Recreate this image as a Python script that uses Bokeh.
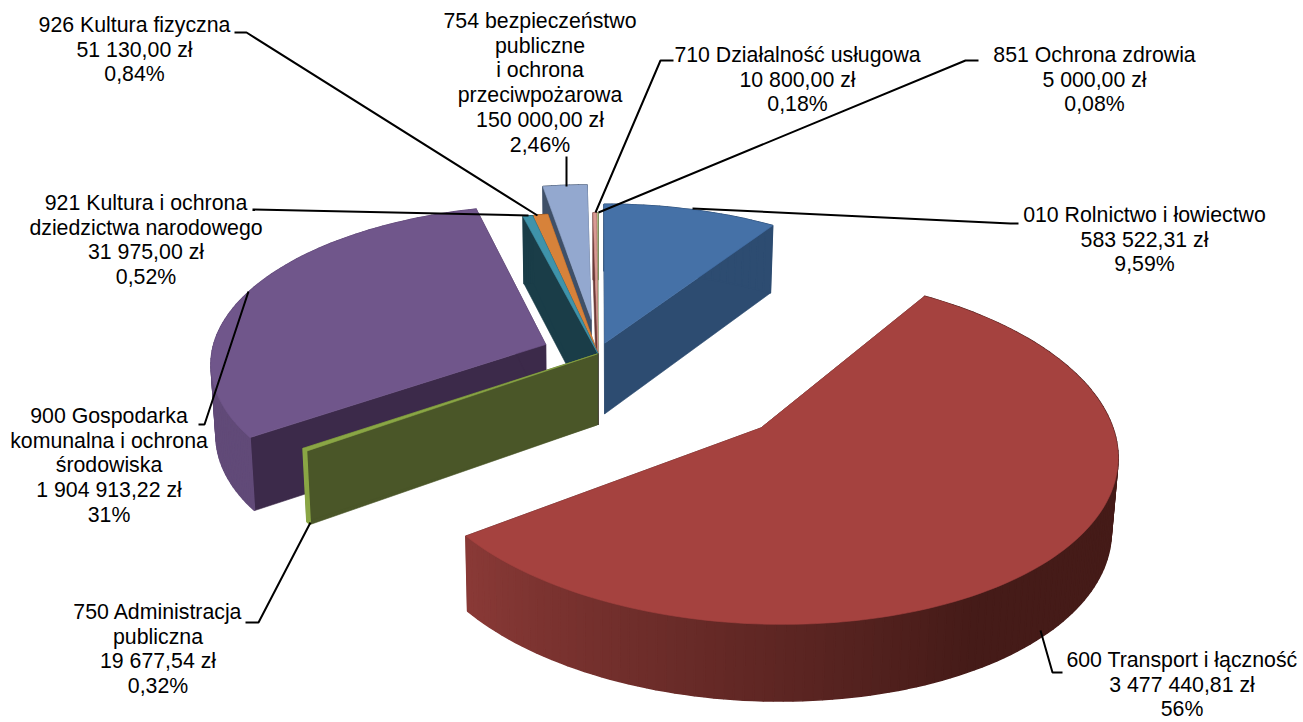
import numpy as np
from bokeh.plotting import figure
from bokeh.embed import file_html
from bokeh.resources import INLINE
from bokeh.core.properties import value

names = ["010 Rolnictwo i łowiectwo", "600 Transport i łączność", "750 Administracja\npubliczna",
         "900 Gospodarka\nkomunalna i ochrona\nśrodowiska", "921 Kultura i ochrona\ndziedzictwa narodowego",
         "926 Kultura fizyczna", "754 bezpieczeństwo\npubliczne\ni ochrona\nprzeciwpożarowa",
         "710 Działalność usługowa", "851 Ochrona zdrowia"]
amounts = [583522.31, 3477440.81, 19677.54, 1904913.22, 31975.00, 51130.00, 150000.00, 10800.00, 5000.00]
amount_text = ["583 522,31 zł", "3 477 440,81 zł", "19 677,54 zł", "1 904 913,22 zł", "31 975,00 zł",
               "51 130,00 zł", "150 000,00 zł", "10 800,00 zł", "5 000,00 zł"]
percent_text = ["9,59%", "56%", "0,32%", "31%", "0,52%", "0,84%", "2,46%", "0,18%", "0,08%"]
explode = [0.07, 0.646, 0.002, 0.168, 0.0, 0.0, 0.224, 0.0, 0.0]
top_color = ["#4571a7", "#a5423f", "#8aa645", "#70568b", "#3f93aa", "#d7823a", "#93a8cf", "#d99a94", "#c4d69b"]
side_color = ["#2d4c71", "#451b18", "#4a5628", "#3c2a4a", "#1a3d48", "#8a5020", "#3f5068", "#6b3a38", "#5a6a3a"]
wall_color = ["#2d4c71", "#451b18", "#8aa645", "#614a78", "#1a3d48", "#8a5020", "#3f5068", "#6b3a38", "#5a6a3a"]
draw_order = [6, 8, 7, 5, 4, 3, 0, 2, 1]

label_x = [1144, 1181.5, 157.5, 108.5, 145.5, 134, 539.5, 797, 1094]
label_y = [214.5, 659.5, 611.5, 415.5, 202.5, 24.5, 20.5, 54.5, 54.5]
LINE = 24.7
leaders = [
    ([692, 1010, 1018], [208, 223, 223]),
    ([1040, 1052, 1062], [630, 672, 672]),
    ([310, 258, 245], [522, 622, 622]),
    ([248, 204, 198], [291, 424, 424]),
    ([528, 252], [215, 209]),
    ([537, 246, 234], [215, 32, 32]),
    ([566, 566], [186, 156]),
    ([595, 660, 673], [212, 60, 60]),
    ([598, 965, 978], [212, 60, 60]),
]

CX, CY, A, B, K, T = 597.45, 353.17, 334.2, 156.7, 0.111, 71.0

def project(X, Y, Z):
    w = 1 + K * Y
    return CX + A * X / w * (1 - 0.013 * Z), CY - B * Y / w + Z * T * (1 - 0.056 * Y)

frac = np.array(amounts) / sum(amounts)
edges = np.concatenate([[0], np.cumsum(frac)]) * 2 * np.pi

xs, ys, fills, widths = [], [], [], []
def add(px, py, c, lw=0.6):
    xs.append(list(px)); ys.append(list(py)); fills.append(c); widths.append(lw)

def mix(a, b, t):
    ca = [int(a[i:i+2], 16) for i in (1, 3, 5)]
    cb = [int(b[i:i+2], 16) for i in (1, 3, 5)]
    return "#%02x%02x%02x" % tuple(int(round(u + (v - u) * t)) for u, v in zip(ca, cb))

for i in draw_order:
    a0, a1 = edges[i], edges[i + 1]
    mid = (a0 + a1) / 2
    ox, oy = explode[i] * np.sin(mid), explode[i] * np.cos(mid)
    th = np.linspace(a0, a1, max(6, int((a1 - a0) * 40)))
    rx, ry = ox + np.sin(th), oy + np.cos(th)
    for a in (a0, a1):
        X = [ox, ox + np.sin(a), ox + np.sin(a), ox]
        Y = [oy, oy + np.cos(a), oy + np.cos(a), oy]
        px, py = project(np.array(X), np.array(Y), np.array([0, 0, 1, 1]))
        add(px, py, side_color[i])
    for j in range(len(th) - 1):
        px, py = project(np.array([rx[j], rx[j+1], rx[j+1], rx[j]]),
                         np.array([ry[j], ry[j+1], ry[j+1], ry[j]]), np.array([0, 0, 1, 1]))
        c = wall_color[i]
        if i == 1:
            t = np.clip((np.degrees(th[j]) - 150) / 85, 0, 1)
            c = mix("#451b18", "#8b3a37", t)
        add(px, py, c, 1.5)
    px, py = project(np.concatenate([[ox], rx]), np.concatenate([[oy], ry]), np.zeros(len(th) + 1))
    add(px, py, top_color[i])

p = figure(width=1303, height=722, x_range=(0, 1303), y_range=(722, 0), output_backend="svg",
           toolbar_location=None, min_border=0, outline_line_color=None, background_fill_color="white")
p.axis.visible = False
p.grid.visible = False
p.patches(xs, ys, fill_color=fills, line_color=fills, line_width=widths)
for lx, ly in leaders:
    p.line(lx, ly, line_color="black", line_width=2)

tx, ty, tt = [], [], []
for i in range(len(names)):
    lines = names[i].split("\n") + [amount_text[i], percent_text[i]]
    for k, s in enumerate(lines):
        tx.append(label_x[i]); ty.append(label_y[i] + k * LINE); tt.append(s)
p.text(tx, ty, text=tt, text_align="center", text_baseline="middle", text_color="black",
       text_font=value("Liberation Sans"), text_font_size="21.3px")

open("out.html", "w").write(file_html(p, INLINE))
